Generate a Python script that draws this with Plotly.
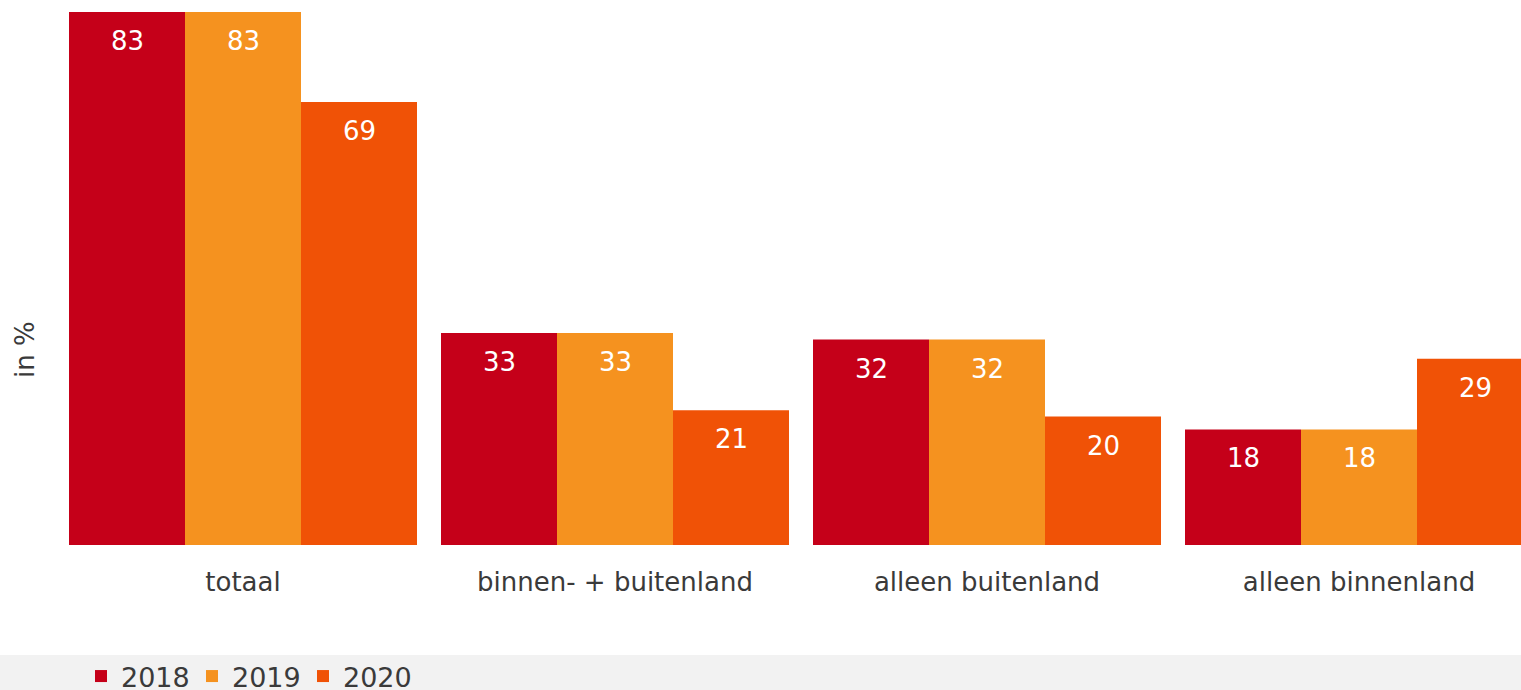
import plotly.graph_objects as go

categories = ["totaal", "binnen- + buitenland", "alleen buitenland", "alleen binnenland"]
series_names = ["2018", "2019", "2020"]
values_2018 = [83, 33, 32, 18]
values_2019 = [83, 33, 32, 18]
values_2020 = [69, 21, 20, 29]
colors = ["#C50019", "#F5921F", "#F05206"]

W, H = 1521, 690
ML, MR, MT, MB = 57, 0, 0, 145
plot_w = W - ML - MR
plot_h = H - MT - MB
cat_pitch = 372
bargap = 24 / cat_pitch
x_range = [-0.5, -0.5 + plot_w / cat_pitch]
px_per_unit = 533 / 83
y_range = [0, plot_h / px_per_unit]

font_family = "DejaVu Sans, Verdana, sans-serif"
text_color = "#3a3a3a"

fig = go.Figure()
all_values = [values_2018, values_2019, values_2020]
for name, vals, col in zip(series_names, all_values, colors):
    fig.add_trace(go.Bar(
        name=name, x=categories, y=vals,
        marker=dict(color=col, line=dict(width=0)),
        hoverinfo="x+y+name",
    ))

# value labels inside bars, a little below the top
bar_px = cat_pitch * (1 - bargap) / len(series_names)
annotations = []
for i, vals in enumerate(all_values):
    for cat, v in zip(categories, vals):
        annotations.append(dict(
            x=cat, y=v, xref="x", yref="y", text=str(v), showarrow=False,
            xshift=(i - 1) * bar_px, yshift=-29, yanchor="middle",
            font=dict(family=font_family, size=26, color="white"),
        ))

def px_x(sx):
    return (sx - ML) / plot_w

def px_y(sy):
    return (plot_h - (sy - MT)) / plot_h

# y-axis title
annotations.append(dict(
    text="in %", textangle=-90, showarrow=False,
    xref="paper", yref="paper", x=px_x(25), y=px_y(350),
    xanchor="center", yanchor="middle",
    font=dict(family=font_family, size=26, color=text_color),
))

fig.update_layout(
    width=W, height=H,
    margin=dict(l=ML, r=MR, t=MT, b=MB, pad=0, autoexpand=False),
    barmode="group", bargap=bargap, bargroupgap=0,
    plot_bgcolor="white", paper_bgcolor="white",
    font=dict(family=font_family, size=26, color=text_color),
    showlegend=True,
    legend=dict(
        orientation="h", x=px_x(81), xanchor="left",
        y=px_y(652), yanchor="top",
        bgcolor="rgba(0,0,0,0)",
        font=dict(family=font_family, size=27, color=text_color),
        itemwidth=30, traceorder="normal",
        entrywidth=66, entrywidthmode="pixels",
    ),
    shapes=[dict(
        type="rect", xref="paper", yref="paper",
        x0=-ML / plot_w, x1=1 + MR / plot_w,
        y0=(plot_h - (H - MT)) / plot_h, y1=px_y(655),
        fillcolor="#F2F2F2", line=dict(width=0), layer="below",
    )],
    annotations=annotations,
    xaxis=dict(
        range=x_range, showgrid=False, zeroline=False, showline=False,
        ticks="outside", ticklen=14, tickcolor="rgba(0,0,0,0)",
        tickfont=dict(family=font_family, size=26, color=text_color),
        fixedrange=True,
    ),
    yaxis=dict(
        range=y_range, showgrid=False, zeroline=False, showline=False,
        showticklabels=False, ticks="", fixedrange=True,
    ),
)

fig.write_html(
    "out.html",
    config={"displayModeBar": False},
    post_script="document.body.style.margin='0';",
)
